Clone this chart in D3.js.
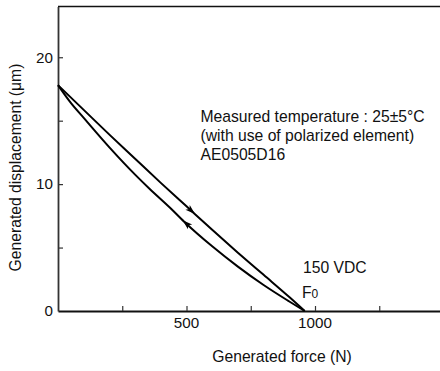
<!DOCTYPE html>
<html>
<head>
<meta charset="utf-8">
<script src="https://cdn.jsdelivr.net/npm/d3@7"></script>
<style>
html,body{margin:0;padding:0;background:#fff;}
svg{display:block;}
text{font-family:"Liberation Sans",Arial,Helvetica,sans-serif;fill:#111;}
</style>
</head>
<body>
<script>
// Data
const forceUp   = [0, 100, 200, 300, 400, 500, 600, 700, 800, 900, 960];
const dispUp    = [17.8, 15.85, 13.9, 12.0, 10.1, 8.25, 6.4, 4.6, 2.85, 1.1, 0];
const forceDown = [0, 50, 101, 200, 300, 358, 436, 490, 600, 700, 800, 900, 960];
const dispDown  = [17.8, 16.4, 15.2, 12.9, 10.75, 9.6, 8.14, 7.06, 5.1, 3.5, 2.05, 0.75, 0];
const xTicks = [250, 500, 750, 1000, 1250];
const xLabels = [500, 1000];
const yTicks = [5, 10, 15, 20];
const yLabels = [0, 10, 20];
const arrowUp = [533, "up"];     // arrow on upper curve, pointing toward larger force
const arrowDown = [485, "down"]; // arrow on lower curve, pointing toward smaller force
const noteLines = ["Measured temperature : 25\u00b15\u00b0C", "(with use of polarized element)", "AE0505D16"];
const voltageLabel = "150 VDC";

const W = 440, H = 371;
const FS = 15.7;
const x = d3.scaleLinear().domain([0, 1500]).range([58, 443.5]);
const y = d3.scaleLinear().domain([0, 24]).range([311, 6.5]);

const svg = d3.select("body").append("svg").attr("width", W).attr("height", H);

// frame top and right
svg.append("line").attr("x1", x(0)).attr("x2", x(1500)).attr("y1", y(24)).attr("y2", y(24))
  .attr("stroke", "#111").attr("stroke-width", 1.6);
svg.append("line").attr("x1", x(1500)).attr("x2", x(1500)).attr("y1", y(24)).attr("y2", y(0))
  .attr("stroke", "#111").attr("stroke-width", 1.6);

// axes
const xAxis = d3.axisBottom(x).tickValues(xTicks).tickSizeInner(-5).tickSizeOuter(0).tickFormat("");
const gx = svg.append("g").attr("transform", `translate(0,${y(0)})`).call(xAxis);
gx.select(".domain").attr("stroke", "#111").attr("stroke-width", 1.8);
gx.selectAll(".tick line").attr("stroke", "#333").attr("stroke-width", 1.2);

const yAxis = d3.axisLeft(y).tickValues(yTicks).tickSizeInner(-5).tickSizeOuter(0).tickFormat("");
const gy = svg.append("g").attr("transform", `translate(${x(0)},0)`).call(yAxis);
gy.select(".domain").attr("stroke", "#333").attr("stroke-width", 1.8);
gy.selectAll(".tick line").attr("stroke", "#333").attr("stroke-width", 1.2);

// tick labels
svg.selectAll(".xl").data(xLabels).enter().append("text")
  .attr("x", d => x(d)).attr("y", 328).attr("text-anchor", "middle")
  .attr("font-size", 15.2).text(d => d);
svg.selectAll(".yl").data(yLabels).enter().append("text")
  .attr("x", 53).attr("y", d => y(d) + 5.3).attr("text-anchor", "end")
  .attr("font-size", 15.2).text(d => d);

// axis titles
svg.append("text").attr("x", 282).attr("y", 362).attr("text-anchor", "middle")
  .attr("font-size", FS).text("Generated force (N)");
svg.append("text").attr("transform", "translate(21,167.5) rotate(-90)").attr("text-anchor", "middle")
  .attr("font-size", FS).text("Generated displacement (\u03bcm)");

// curves
const line = d3.line().x(d => x(d[0])).y(d => y(d[1])).curve(d3.curveMonotoneX);
const up = forceUp.map((f, i) => [f, dispUp[i]]);
const down = forceDown.map((f, i) => [f, dispDown[i]]);
[up, down].forEach(pts => {
  svg.append("path").attr("d", line(pts)).attr("fill", "none")
    .attr("stroke", "#000").attr("stroke-width", 2);
});

// arrowheads
function interp(fs, ds, f) {
  return d3.scaleLinear().domain(fs).range(ds)(f);
}
function arrow(fs, ds, f, dir) {
  const px = x(f), py = y(interp(fs, ds, f));
  const f2 = f + (dir === "up" ? -20 : 20);
  const qx = x(f2), qy = y(interp(fs, ds, f2));
  const ang = Math.atan2(py - qy, px - qx);
  const L = 10, hw = 3.2;
  const bx = px - L * Math.cos(ang), by = py - L * Math.sin(ang);
  const nx = -Math.sin(ang), ny = Math.cos(ang);
  const pts = [[px, py], [bx + hw * nx, by + hw * ny], [bx + 2.5 * Math.cos(ang), by + 2.5 * Math.sin(ang)], [bx - hw * nx, by - hw * ny]];
  svg.append("path").attr("d", "M" + pts.map(p => p.join(",")).join("L") + "Z").attr("fill", "#000");
}
arrow(forceUp, dispUp, arrowUp[0], arrowUp[1]);
arrow(forceDown, dispDown, arrowDown[0], arrowDown[1]);

// notes
svg.selectAll(".note").data(noteLines).enter().append("text")
  .attr("x", 200.5).attr("y", (d, i) => 121.5 + i * 19).attr("font-size", FS).text(d => d);
svg.append("text").attr("x", 303).attr("y", 273).attr("font-size", FS).text(voltageLabel);
const f0 = svg.append("text").attr("x", 302).attr("y", 298).attr("font-size", FS);
f0.append("tspan").text("F");
f0.append("tspan").attr("font-size", 12).text("0");
</script>
</body>
</html>
